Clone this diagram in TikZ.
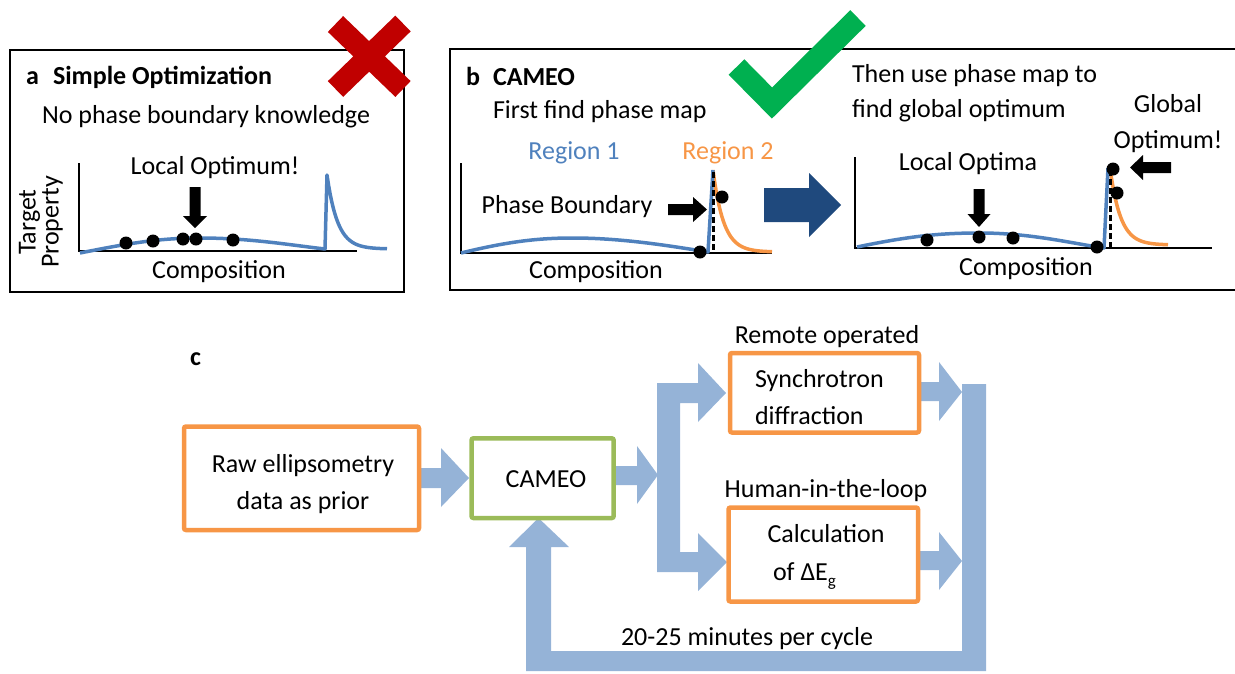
\documentclass[tikz,border=0pt]{standalone}
\usepackage{fontspec}
\setmainfont{Carlito}
\definecolor{cblue}{RGB}{79,129,189}
\definecolor{corange}{RGB}{247,150,70}
\definecolor{cgreen}{RGB}{155,187,89}
\definecolor{carrow}{RGB}{149,179,215}
\definecolor{cdark}{RGB}{31,73,125}
\definecolor{cred}{RGB}{192,0,0}
\definecolor{ccheck}{RGB}{0,176,80}
\begin{document}
\begin{tikzpicture}[x=1pt,y=-1pt,
 txt/.style={font=\fontsize{26}{31}\selectfont, inner sep=0pt, outer sep=0pt},
 ttl/.style={font=\fontsize{26}{31}\selectfont\bfseries, inner sep=0pt, outer sep=0pt},
 frame/.style={draw=black, line width=2pt},
 axis/.style={draw=black, line width=2pt},
 bcurve/.style={draw=cblue, line width=3.5pt, line join=round},
 ocurve/.style={draw=corange, line width=3.5pt, line join=round},
 bdash/.style={draw=black, line width=3pt, dash pattern=on 6pt off 3pt},
 dot/.style={circle, fill=black, minimum size=13pt, inner sep=0pt},
 obox/.style={draw=corange, line width=4.5pt, rounded corners=2pt, fill=white},
 gbox/.style={draw=cgreen, line width=4.5pt, rounded corners=2pt, fill=white},
 flow/.style={fill=carrow},
 blk/.style={fill=black}]

\useasboundingbox (0,0) rectangle (1235,673);

% ================= panel a =================
\draw[frame] (10,50) rectangle (404,292);
\node[ttl, anchor=base west] (alab) at (26,84) {a};
\node[ttl, anchor=base west] (atitle) at (53,84) {Simple Optimization};
\node[txt, anchor=base] (asub) at (206,123) {No phase boundary knowledge};
\node[txt, anchor=base] (aloc) at (215,174) {Local Optimum!};
\node[txt, anchor=base] (acomp) at (219,278) {Composition};
\node[txt, rotate=90, align=center, font=\fontsize{26}{23}\selectfont] (ayl) at (41,222) {Target\\Property};
\draw[axis] (79,163) -- (79,251) -- (357,251);
\draw[bcurve] (80,253) .. controls (130,243) and (160,238) .. (200,238)
  .. controls (250,238) and (290,245) .. (325,249) -- (327,175)
  -- plot[domain=327:387, samples=40] (\x, {249-74*exp(-(\x-327)/10.6)});
\node[dot] (a1) at (126,243) {};
\node[dot] (a2) at (153,241) {};
\node[dot] (a3) at (183,239) {};
\node[dot] (a4) at (196,239) {};
\node[dot] (a5) at (233,240) {};
\fill[blk] (189.5,187) -- (200.5,187) -- (200.5,216) -- (207,216) -- (195,228) -- (183,216) -- (189.5,216) -- cycle;
\draw[cred, line width=22pt] (335.5,24) -- (403,89) (403,23.5) -- (335.5,89);

% ================= panel b =================
\draw[frame] (1240,49) -- (450,49) -- (450,290) -- (1240,290);
\node[ttl, anchor=base west] (blab) at (466,85) {b};
\node[ttl, anchor=base west] (btitle) at (493,85) {CAMEO};
\node[txt, anchor=base west] (bsub) at (493,118) {First find phase map};
\node[txt, anchor=base, text=cblue] (r1) at (574,159) {Region 1};
\node[txt, anchor=base, text=corange] (r2) at (728,159) {Region 2};
\node[txt, anchor=base] (pb) at (567,213) {Phase Boundary};
\node[txt, anchor=base] (bcomp) at (596,278) {Composition};
\draw[axis] (461,163) -- (461,253) -- (772,253);
\draw[ocurve] plot[domain=713:772, samples=40] (\x, {252-82*exp(-(\x-713)/10.6)});
\draw[bcurve] (461,253) .. controls (510,241) and (540,238) .. (573,238)
  .. controls (620,238) and (665,245) .. (708,252) -- (713,170);
\draw[bdash] (713.5,172) -- (713.5,253);
\node[dot] (b1) at (700,252) {};
\node[dot] (b2) at (722,197) {};
\fill[blk] (668,204) -- (693,204) -- (693,197) -- (707,209.5) -- (693,222) -- (693,215) -- (668,215) -- cycle;

\fill[cdark] (764,188) -- (809,188) -- (809,173) -- (841,205) -- (809,237) -- (809,222) -- (764,222) -- cycle;

\node[txt, anchor=base west] (bthen1) at (852,82) {Then use phase map to};
\node[txt, anchor=base west] (bthen2) at (852,117) {find global optimum};
\node[txt, anchor=base] (glob1) at (1168,112) {Global};
\node[txt, anchor=base] (glob2) at (1168,148) {Optimum!};
\node[txt, anchor=base] (lopt) at (968,170) {Local Optima};
\node[txt, anchor=base] (ccomp) at (1026,275) {Composition};
\draw[axis] (855,157) -- (855,248) -- (1212,248);
\draw[ocurve] plot[domain=1110:1168, samples=40] (\x, {245-77*exp(-(\x-1110)/10.5)});
\draw[bcurve] (857,247) .. controls (910,236) and (940,233) .. (980,233)
  .. controls (1030,233) and (1070,243) .. (1104,248) -- (1108,168);
\draw[bdash] (1110.5,170) -- (1110.5,248);
\node[dot] (c1) at (927,240) {};
\node[dot] (c2) at (979,237) {};
\node[dot] (c3) at (1013,238) {};
\node[dot] (c4) at (1097,247) {};
\node[dot] (c5) at (1113,169) {};
\node[dot] (c6) at (1117,193) {};
\fill[blk] (973.5,189) -- (984.5,189) -- (984.5,214) -- (990.5,214) -- (979,227) -- (967.5,214) -- (973.5,214) -- cycle;
\fill[blk] (1171,162) -- (1143,162) -- (1143,155) -- (1130,167.5) -- (1143,180) -- (1143,173) -- (1171,173) -- cycle;

\draw[ccheck, line width=22pt] (736.5,67) -- (772,103) -- (858,18);

% ================= panel c =================
\node[ttl, anchor=base west] (clab) at (190,365) {c};

% flow arrows
\fill[flow] (419,468) -- (441,468) -- (441,448) -- (469,478) -- (441,507) -- (441,488) -- (419,488) -- cycle;
\fill[flow] (615,466) -- (637,466) -- (637,446) -- (658,475) -- (637,504) -- (637,485) -- (615,485) -- cycle;
\fill[flow] (657,383) -- (698,383) -- (698,363) -- (726,393) -- (698,422) -- (698,403) -- (680,403)
  -- (680,552) -- (698,552) -- (698,533) -- (727,562) -- (698,591) -- (698,572) -- (657,572) -- cycle;
\fill[flow] (917,382) -- (939,382) -- (939,362) -- (962,392) -- (939,421) -- (939,401) -- (917,401) -- cycle;
\fill[flow] (916,551) -- (939,551) -- (939,532) -- (962,561) -- (939,590) -- (939,570) -- (916,570) -- cycle;
\fill[flow] (962,384) -- (986,384) -- (986,671) -- (526,671) -- (526,547) -- (509,547) -- (538.5,518)
  -- (569,547) -- (551,547) -- (551,651) -- (962,651) -- cycle;

% boxes
\draw[obox] (184,426.5) rectangle (419,530);
\node[txt, anchor=base] (raw1) at (303,472) {Raw ellipsometry};
\node[txt, anchor=base] (raw2) at (303,509) {data as prior};
\draw[gbox] (471.5,438.3) rectangle (613.7,518);
\node[txt, anchor=base] (cam) at (546,487) {CAMEO};
\draw[obox] (730,353) rectangle (919,432.5);
\node[txt, anchor=base west] (syn1) at (755,387) {Synchrotron};
\node[txt, anchor=base west] (syn2) at (755,424) {diffraction};
\node[txt, anchor=base] (remote) at (827,343) {Remote operated};
\draw[obox] (728.5,507.5) rectangle (918,601.5);
\node[txt, anchor=base] (calc1) at (826,542) {Calculation};
\node[txt, anchor=base west] (calc2) at (773,580) {of ΔE\raisebox{-6pt}{\fontsize{17}{17}\selectfont g}};
\node[txt, anchor=base] (human) at (826,497) {Human-in-the-loop};
\node[txt, anchor=base] (cycle) at (747,645) {20-25 minutes per cycle};
\end{tikzpicture}
\end{document}
